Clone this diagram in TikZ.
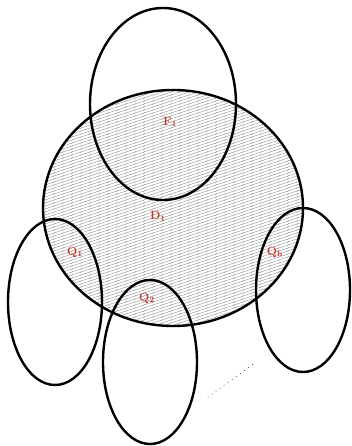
\documentclass[tikz,border=0pt]{standalone}
\usetikzlibrary{patterns}
\definecolor{lab}{RGB}{192,57,43}
\pgfdeclarepatternformonly{shallowlines}{\pgfpoint{-1pt}{-1pt}}{\pgfpoint{10pt}{4pt}}{\pgfpoint{9pt}{3pt}}{
  \pgfsetlinewidth{0.45pt}
  \pgfpathmoveto{\pgfpoint{-0.9pt}{-0.3pt}}
  \pgfpathlineto{\pgfpoint{9.9pt}{3.3pt}}
  \pgfusepath{stroke}}
\begin{document}
\begin{tikzpicture}[x=1pt,y=1pt,
  oval/.style={draw=black,line width=2.4pt},
  lbl/.style={text=lab,font=\bfseries\large}]
\useasboundingbox (0,0) rectangle (351,446);
\fill[pattern=shallowlines,pattern color=gray!85] (173,238) ellipse [x radius=130,y radius=118];
\draw[oval] (173,238) ellipse [x radius=130,y radius=118];
\draw[oval] (163,342) ellipse [x radius=73,y radius=96];
\draw[oval] (55,144) ellipse [x radius=47,y radius=83];
\draw[oval] (150,84) ellipse [x radius=47,y radius=82];
\draw[oval] (303,156) ellipse [x radius=47,y radius=82];
\node[lbl] (f) at (170,324) {F$_\mathbf{1}$};
\node[lbl] (d) at (158,230) {D$_\mathbf{1}$};
\node[lbl] (q1) at (75,194) {Q$_\mathbf{1}$};
\node[lbl] (q2) at (147,148) {Q$_\mathbf{2}$};
\node[lbl] (qh) at (275,194) {Q$_\mathbf{h}$};
\coordinate (a) at (208,49);
\coordinate (b) at (256,84);
\draw[line width=1pt,line cap=round,dash pattern=on 0pt off 5pt,draw=black!80] (a) -- (b);
\end{tikzpicture}
\end{document}
